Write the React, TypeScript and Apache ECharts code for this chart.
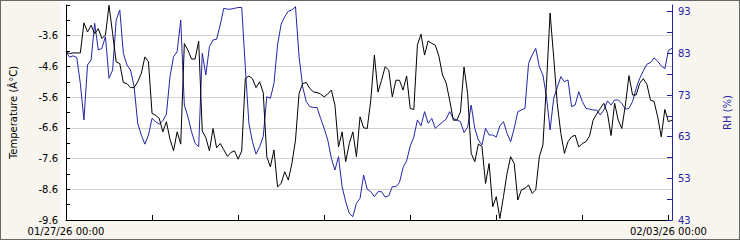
import React, { useEffect, useRef } from "react";
import * as echarts from "echarts";

// Hourly readings starting 01/27/26 00:00
const startDate = Date.UTC(2026, 0, 27, 0, 0);
const hourCount = 170;

const temperature = [
  -4.13, -4.18, -4.16, -4.16, -4.16, -3.18, -3.48, -3.26, -3.53, -3.37,
  -3.69, -3.58, -2.61, -3.53, -4.45, -4.51, -5.13, -5.16, -5.29, -5.29,
  -5.10, -4.83, -4.29, -4.45, -6.13, -6.19, -6.29, -6.73, -6.40, -6.97,
  -7.34, -6.73, -7.13, -3.86, -4.07, -4.36, -4.36, -3.78, -6.70, -6.92,
  -7.35, -6.62, -7.25, -7.11, -7.31, -7.53, -7.40, -7.35, -7.62, -7.35,
  -5.00, -4.91, -5.00, -5.29, -5.10, -5.45, -7.54, -7.87, -7.32, -8.52,
  -8.41, -8.03, -8.30, -7.76, -7.00, -5.48, -5.16, -5.12, -5.32, -5.43,
  -5.45, -5.50, -5.59, -5.50, -5.37, -5.86, -7.22, -6.73, -7.70, -7.11,
  -6.73, -7.54, -6.24, -6.60, -6.62, -5.70, -4.23, -5.43, -5.05, -4.61,
  -4.72, -5.59, -5.05, -5.05, -5.37, -4.91, -5.97, -6.00, -3.90, -3.55,
  -4.23, -3.77, -3.85, -3.91, -4.27, -4.88, -5.13, -5.70, -6.35, -6.35,
  -6.08, -4.62, -5.48, -7.43, -7.70, -7.13, -7.20, -8.41, -7.76, -9.17,
  -8.84, -9.55, -8.84, -8.08, -7.54, -7.76, -8.95, -8.62, -8.57, -8.46,
  -8.73, -8.62, -7.54, -7.16, -5.16, -2.86, -4.29, -5.81, -6.78, -7.43,
  -7.05, -6.89, -6.84, -7.22, -7.11, -7.05, -6.87, -6.35, -6.15, -5.97,
  -5.80, -6.13, -6.85, -5.80, -6.35, -6.62, -5.86, -4.90, -5.53, -5.53,
  -5.15, -5.00, -5.18, -5.70, -5.74, -6.24, -6.89, -6.00, -6.40, -6.35,
];

const humidity = [
  83.4, 82.1, 82.4, 82.0, 75.8, 67.0, 80.2, 81.4, 90.2, 83.8,
  84.2, 87.0, 77.0, 79.0, 91.0, 93.4, 83.0, 80.2, 79.0, 75.0,
  66.2, 63.4, 61.2, 63.4, 67.4, 66.6, 66.0, 66.8, 68.4, 77.4,
  82.2, 83.4, 91.0, 70.6, 67.8, 64.2, 61.4, 60.6, 83.0, 77.8,
  84.6, 86.2, 86.4, 89.8, 93.8, 93.6, 93.6, 93.8, 94.0, 94.0,
  79.8, 66.2, 61.8, 58.8, 60.6, 63.0, 72.6, 72.2, 75.8, 85.0,
  90.0, 91.8, 93.1, 93.4, 94.2, 82.2, 75.0, 71.4, 70.2, 70.0,
  70.0, 67.4, 65.0, 62.2, 57.8, 55.0, 58.2, 51.0, 47.4, 44.6,
  43.8, 47.0, 48.2, 53.8, 50.4, 49.8, 48.6, 49.8, 49.8, 48.5,
  48.8, 51.0, 51.0, 52.0, 55.6, 57.2, 60.8, 62.9, 67.0, 65.6,
  69.0, 66.2, 67.4, 65.0, 65.8, 66.5, 67.2, 69.0, 67.4, 67.0,
  66.6, 64.0, 65.3, 70.6, 65.0, 62.2, 61.0, 65.0, 63.4, 63.4,
  62.9, 65.6, 66.6, 63.8, 61.8, 65.0, 69.0, 69.4, 69.8, 80.6,
  82.6, 84.2, 79.8, 77.8, 72.6, 64.6, 72.2, 74.8, 77.4, 76.2,
  76.6, 70.2, 70.6, 73.8, 71.4, 69.8, 69.6, 69.4, 69.4, 68.2,
  69.4, 71.6, 70.6, 71.8, 71.8, 71.0, 69.6, 69.8, 71.4, 74.6,
  77.0, 78.8, 80.4, 80.8, 81.9, 81.1, 80.0, 79.3, 83.7, 84.2,
];

const tempTickLabels = [-9.6, -8.6, -7.6, -6.6, -5.6, -4.6, -3.6];
const rhTickLabels = [43, 53, 63, 73, 83, 93];
const rhTickMarks = [43, 48, 53, 58, 63, 68, 73, 78, 83, 88, 93];

const pad = (n: number) => String(n).padStart(2, "0");
const categories = Array.from({ length: hourCount }, (_, i) => {
  const d = new Date(startDate + i * 3600000);
  return `${pad(d.getUTCMonth() + 1)}/${pad(d.getUTCDate())}/${pad(d.getUTCFullYear() % 100)} ${pad(d.getUTCHours())}:${pad(d.getUTCMinutes())}`;
});

const TEMP_OFFSET = 0.6; // shifts -9.6..-2.6 onto -9..-2 so ticks fall on whole steps
const FONT = "DejaVu Sans";
const FS = 10;
const BLUE = "#2424a8";

export default function App() {
  const ref = useRef<HTMLDivElement>(null);
  useEffect(() => {
    document.body.style.margin = "0";
    if (!ref.current) return;
    const chart = echarts.init(ref.current, null, { renderer: "svg" });
    chart.setOption({
      animation: false,
      backgroundColor: "transparent",
      grid: { left: 60, right: 60, top: 5, bottom: 20, containLabel: false },
      xAxis: {
        type: "category",
        data: categories,
        boundaryGap: false,
        axisLine: { lineStyle: { color: "#000", width: 1 } },
        axisTick: {
          inside: true,
          length: 5,
          interval: (i: number) => i % 24 === 0,
          lineStyle: { color: "#000" },
        },
        axisLabel: {
          interval: (i: number) => i % 168 === 0,
          color: "#000",
          fontFamily: FONT,
          fontSize: FS,
          margin: 6,
        },
        splitLine: { show: false },
      },
      yAxis: [
        {
          type: "value",
          position: "left",
          min: tempTickLabels[0] + TEMP_OFFSET,
          max: tempTickLabels[tempTickLabels.length - 1] + 1 + TEMP_OFFSET,
          interval: 1,
          name: "Temperature (Â°C)",
          nameLocation: "middle",
          nameGap: 48,
          nameRotate: 90,
          nameTextStyle: { color: "#000", fontFamily: FONT, fontSize: FS },
          axisLine: { show: true, lineStyle: { color: "#000", width: 1 } },
          axisTick: { show: true, inside: true, length: 4, lineStyle: { color: "#000" } },
          minorTick: { show: true, splitNumber: 2, length: 4, lineStyle: { color: "#000" } },
          axisLabel: {
            color: "#000",
            fontFamily: FONT,
            fontSize: FS,
            margin: 8,
            showMaxLabel: false,
            formatter: (v: number) => (v - TEMP_OFFSET).toFixed(1),
          },
          splitLine: { show: true, showMaxLine: false, lineStyle: { color: "#d2d2d2", width: 1 } },
        },
        {
          type: "value",
          position: "right",
          min: rhTickLabels[0],
          max: 94.6,
          name: "RH (%)",
          nameLocation: "middle",
          nameGap: 50,
          nameRotate: 90,
          nameTextStyle: { color: BLUE, fontFamily: FONT, fontSize: FS },
          axisLine: { show: true, lineStyle: { color: BLUE, width: 1 } },
          axisTick: {
            show: true,
            inside: true,
            length: 5,
            customValues: rhTickMarks,
            lineStyle: { color: BLUE },
          },
          axisLabel: {
            color: BLUE,
            fontFamily: FONT,
            fontSize: FS,
            margin: 6,
            customValues: rhTickLabels,
          },
          splitLine: { show: false },
        },
      ],
      series: [
        {
          type: "line",
          name: "RH",
          yAxisIndex: 1,
          data: humidity,
          showSymbol: false,
          lineStyle: { color: BLUE, width: 1 },
          itemStyle: { color: BLUE },
          z: 2,
        },
        {
          type: "line",
          name: "Temperature",
          yAxisIndex: 0,
          data: temperature.map((t) => +(t + TEMP_OFFSET).toFixed(3)),
          showSymbol: false,
          lineStyle: { color: "#000", width: 1 },
          itemStyle: { color: "#000" },
          z: 3,
        },
      ],
    });
    return () => chart.dispose();
  }, []);

  return (
    <div style={{ position: "relative", width: 740, height: 240, background: "#f7f5ee", overflow: "hidden" }}>
      <div style={{ position: "absolute", left: 61, top: 0, width: 619, height: 220, background: "#fff" }} />
      <div ref={ref} style={{ position: "absolute", left: 0, top: 0, width: 740, height: 240 }} />
      <div
        style={{
          position: "absolute",
          left: 0,
          top: 0,
          width: 740,
          height: 240,
          boxSizing: "border-box",
          border: "1px solid #666",
          pointerEvents: "none",
        }}
      />
    </div>
  );
}
